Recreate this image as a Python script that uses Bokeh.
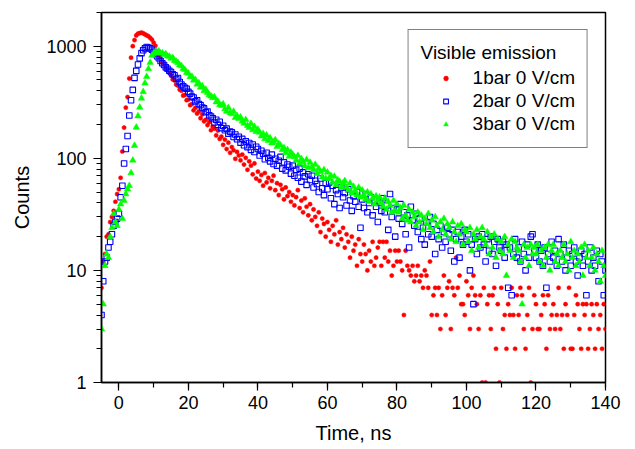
from bokeh.plotting import figure
from bokeh.models import (Range1d, FixedTicker, NumeralTickFormatter, Legend,
                          LegendItem, ColumnDataSource, SingleIntervalTicker)
from bokeh.embed import file_html
from bokeh.resources import INLINE
import numpy as np

# ---- data ----
TIME_START = -5.0     # ns, first channel
TIME_STEP = 0.5       # ns per channel

COUNTS_1BAR = [
    7, 12, 14, 20, 21, 27, 30, 34, 41, 48,
    53, 67, 115, 188, 283, 352, 515, 790, 1002, 1134,
    1248, 1296, 1308, 1322, 1304, 1276, 1251, 1228, 1188, 1146,
    1075, 1010, 905, 812, 772, 718, 695, 640, 625, 580,
    548, 505, 497, 455, 446, 410, 401, 362, 368, 330,
    335, 298, 305, 268, 282, 251, 262, 228, 247, 214,
    221, 198, 210, 178, 192, 184, 160, 177, 149, 156,
    132, 147, 121, 138, 112, 126, 118, 99, 114, 106,
    96, 108, 88, 101, 79, 94, 86, 72, 90, 66,
    76, 63, 71, 57, 74, 61, 67, 54, 63, 70,
    52, 60, 47, 58, 53, 43, 55, 46, 50, 41,
    47, 38, 45, 52, 36, 42, 33, 44, 37, 31,
    39, 28, 35, 30, 25, 33, 22, 29, 26, 20,
    27, 23, 18, 25, 21, 28, 17, 22, 19, 24,
    16, 21, 18, 13, 20, 15, 17, 11, 19, 14,
    12, 17, 14, 10, 15, 12, 18, 11, 13, 16,
    18, 11, 18, 13, 18, 12, 15, 9, 11, 15,
    12, 15, 12, 10, 4, 15, 11, 10, 9, 11,
    8, 9, 11, 8, 9, 7, 10, 9, 7, 12,
    4, 6, 7, 4, 7, 3, 6, 9, 4, 7,
    8, 3, 7, 6, 13, 7, 9, 5, 5, 4,
    8, 6, 3, 7, 9, 6, 5, 3, 6, 1,
    7, 1, 5, 6, 3, 6, 7, 2, 5, 1,
    7, 3, 4, 2, 5, 4, 7, 4, 2, 6,
    4, 7, 6, 3, 2, 4, 7, 1, 3, 6,
    5, 3, 3, 4, 6, 5, 2, 6, 3, 4,
    5, 3, 4, 7, 3, 4, 2, 5, 4, 7,
    2, 2, 4, 6, 5, 3, 2, 5, 4, 5,
    2, 3, 5, 4, 2, 5, 3, 4, 2, 5,
    3,
]

COUNTS_2BAR = [
    4, 8, 12, 13, 16, 18, 21, 25, 27, 29,
    32, 45, 57, 90, 121, 158, 241, 330, 408, 522,
    603, 688, 779, 868, 922, 958, 986, 973, 957, 931,
    890, 852, 815, 781, 739, 705, 680, 648, 630, 605,
    590, 562, 551, 512, 520, 480, 455, 440, 425, 418,
    392, 378, 355, 349, 322, 330, 305, 298, 284, 279,
    258, 262, 242, 236, 228, 209, 221, 199, 212, 186,
    195, 178, 184, 166, 173, 171, 155, 163, 148, 156,
    138, 149, 131, 142, 126, 137, 119, 133, 114, 127,
    121, 106, 117, 110, 98, 112, 101, 94, 108, 89,
    99, 86, 95, 103, 81, 92, 78, 88, 84, 73,
    86, 70, 79, 67, 81, 62, 75, 69, 58, 72,
    64, 70, 55, 63, 59, 50, 66, 54, 47, 60,
    53, 61, 44, 57, 39, 52, 48, 36, 55, 45,
    49, 38, 53, 42, 34, 46, 41, 50, 37, 24,
    43, 36, 48, 33, 40, 45, 31, 42, 37, 27,
    40, 34, 44, 33, 38, 23, 48, 30, 36, 20,
    35, 29, 39, 26, 33, 21, 31, 16, 37, 28,
    25, 32, 22, 29, 19, 24, 17, 27, 21, 30,
    20, 26, 14, 23, 19, 25, 16, 22, 18, 24,
    21, 15, 23, 12, 19, 22, 13, 20, 17, 23,
    18, 21, 10, 17, 5, 19, 14, 20, 16, 21,
    17, 12, 19, 15, 20, 14, 18, 11, 19, 16,
    15, 18, 13, 17, 7, 16, 6, 14, 19, 13,
    16, 12, 18, 14, 10, 17, 13, 20, 21, 15,
    13, 17, 12, 15, 11, 16, 7, 14, 12, 18,
    13, 15, 11, 19, 14, 12, 17, 10, 13, 15,
    11, 14, 16, 12, 9, 13, 15, 11, 14, 6,
    12, 16, 10, 13, 11, 15, 8, 14, 12, 6,
    10,
]

COUNTS_3BAR = [
    3, 5, 11, 14, 13, 20, 24, 32, 27, 25,
    35, 39, 29, 42, 48, 53, 57, 74, 96, 130,
    189, 238, 285, 343, 392, 468, 536, 628, 716, 828,
    862, 898, 876, 905, 864, 871, 840, 852, 815, 812,
    778, 790, 745, 732, 712, 679, 668, 632, 618, 583,
    574, 533, 538, 497, 503, 458, 470, 430, 441, 399,
    412, 385, 369, 358, 347, 352, 318, 322, 301, 296,
    305, 276, 262, 283, 255, 249, 262, 231, 240, 226,
    233, 214, 205, 221, 196, 188, 204, 179, 192, 173,
    181, 170, 158, 166, 149, 161, 144, 152, 137, 140,
    146, 127, 135, 131, 119, 124, 112, 119, 104, 113,
    108, 103, 96, 106, 90, 99, 93, 85, 97, 82,
    92, 84, 79, 88, 73, 81, 76, 68, 79, 66,
    75, 66, 70, 61, 69, 58, 64, 62, 55, 60,
    63, 55, 52, 60, 49, 56, 51, 47, 55, 45,
    52, 47, 43, 50, 41, 48, 44, 39, 46, 42,
    45, 40, 37, 44, 35, 41, 38, 33, 42, 34,
    39, 33, 36, 29, 38, 31, 28, 35, 27, 33,
    30, 25, 33, 27, 31, 23, 29, 26, 32, 24,
    28, 22, 30, 25, 20, 27, 23, 29, 21, 26,
    24, 19, 27, 22, 18, 25, 21, 26, 17, 23,
    22, 18, 24, 15, 21, 19, 23, 16, 20, 24,
    19, 17, 22, 14, 20, 16, 21, 13, 19, 15,
    18, 14, 20, 9, 17, 15, 19, 13, 18, 16,
    15, 12, 5, 17, 13, 16, 11, 17, 14, 16,
    14, 17, 12, 15, 11, 16, 13, 17, 10, 15,
    17, 12, 14, 11, 15, 13, 17, 12, 14, 10,
    18, 13, 15, 11, 14, 12, 16, 9, 17, 13,
    15, 11, 13, 16, 10, 14, 12, 8, 15, 11,
    9,
]

SERIES_LABELS = ["1bar 0 V/cm", "2bar 0 V/cm", "3bar 0 V/cm"]
LEGEND_TITLE = "Visible emission"
X_TICKS = [0, 20, 40, 60, 80, 100, 120, 140]
Y_TICKS = [1, 10, 100, 1000]
X_LABEL = "Time, ns"
Y_LABEL = "Counts"

FONT = "Liberation Sans"


def times(n):
    return TIME_START + TIME_STEP * np.arange(n)


p = figure(width=635, height=449, frame_width=504, frame_height=370,
           x_range=Range1d(-5, 140), y_range=Range1d(1, 2000),
           y_axis_type="log", output_backend="svg", toolbar_location=None,
           min_border_left=101, min_border_right=30, min_border_top=12,
           min_border_bottom=67)
p.background_fill_color = "white"
p.border_fill_color = "white"
p.grid.visible = False
p.outline_line_color = "black"
p.outline_line_width = 1.5

src1 = ColumnDataSource(dict(t=times(len(COUNTS_1BAR)), y=COUNTS_1BAR))
src2 = ColumnDataSource(dict(t=times(len(COUNTS_2BAR)), y=COUNTS_2BAR))
src3 = ColumnDataSource(dict(t=times(len(COUNTS_3BAR)), y=COUNTS_3BAR))

r1 = p.scatter("t", "y", source=src1, marker="circle", size=4.2,
               fill_color="#ff0000", line_color="#ff0000", line_width=0.5)
r2 = p.scatter("t", "y", source=src2, marker="square", size=5.5,
               fill_color="white", fill_alpha=0.0, line_color="#0000ff",
               line_width=1.1)
r3 = p.scatter("t", "y", source=src3, marker="triangle", size=6.5,
               fill_color="#00ff00", line_color="#00ff00", line_width=0.5)

# axes
p.xaxis.ticker = SingleIntervalTicker(interval=20, num_minor_ticks=2)
minor_y = [m * d for d in Y_TICKS for m in range(2, 10)]
p.yaxis.ticker = FixedTicker(ticks=Y_TICKS, minor_ticks=minor_y)
p.yaxis.formatter = NumeralTickFormatter(format="0")
p.xaxis.axis_label = X_LABEL
p.yaxis.axis_label = Y_LABEL

for ax in (p.xaxis, p.yaxis):
    ax.axis_line_color = "black"
    ax.axis_line_width = 1.5
    ax.major_tick_line_color = "black"
    ax.minor_tick_line_color = "black"
    ax.major_tick_line_width = 1.2
    ax.minor_tick_line_width = 1.2
    ax.major_tick_out = 8
    ax.major_tick_in = 0
    ax.minor_tick_out = 5
    ax.minor_tick_in = 0
    ax.major_label_text_font = FONT
    ax.major_label_text_font_size = "18px"
    ax.major_label_text_color = "black"
    ax.axis_label_text_font = FONT
    ax.axis_label_text_font_size = "20px"
    ax.axis_label_text_font_style = "normal"
    ax.axis_label_text_color = "black"

p.xaxis.major_label_standoff = 5
p.xaxis.axis_label_standoff = 10
p.yaxis.major_label_standoff = 7
p.yaxis.axis_label_standoff = 10

legend = Legend(items=[LegendItem(label=SERIES_LABELS[0], renderers=[r1]),
                       LegendItem(label=SERIES_LABELS[1], renderers=[r2]),
                       LegendItem(label=SERIES_LABELS[2], renderers=[r3])],
                title=LEGEND_TITLE, location="top_right", margin=17)
legend.title_text_font = FONT
legend.title_text_font_size = "19px"
legend.title_text_font_style = "normal"
legend.title_text_color = "black"
legend.title_standoff = 3
legend.label_text_font = FONT
legend.label_text_font_size = "19px"
legend.label_text_color = "black"
legend.glyph_width = 50
legend.glyph_height = 12
legend.label_standoff = 2
legend.spacing = 1
legend.padding = 12
legend.border_line_color = "black"
legend.border_line_width = 1
legend.background_fill_color = "white"
legend.background_fill_alpha = 1.0
p.add_layout(legend)

open("out.html", "w").write(file_html(p, INLINE))
